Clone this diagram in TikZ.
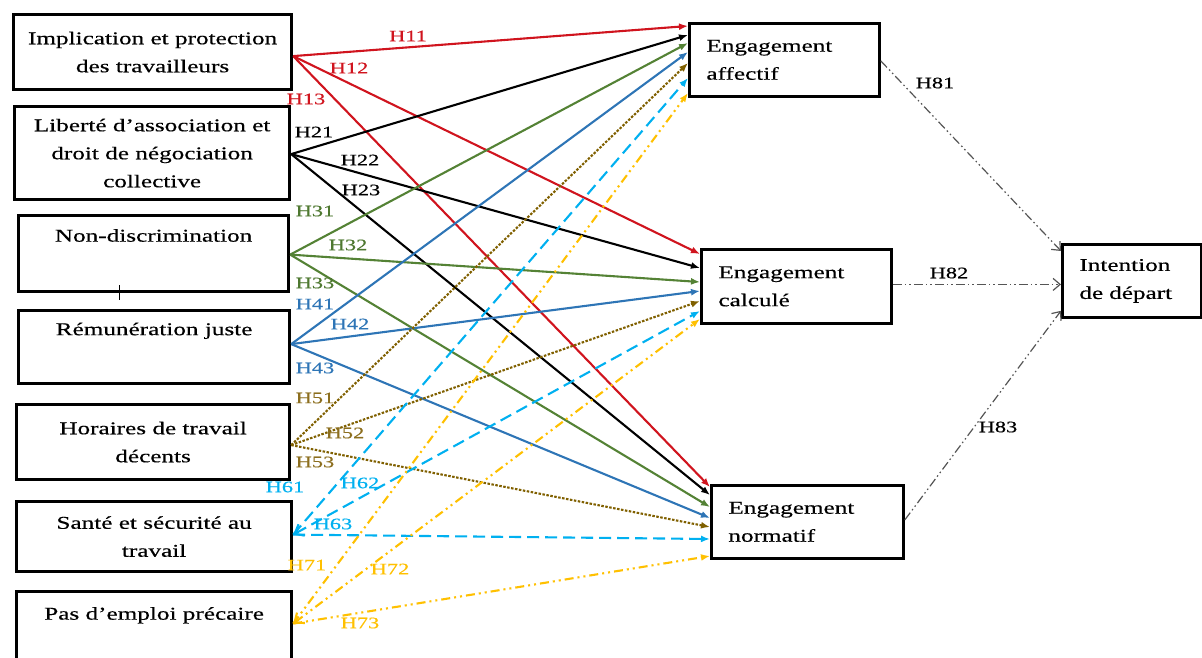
\documentclass[tikz,border=0pt]{standalone}
\usepackage{fontspec}
\setmainfont{Liberation Serif}[FakeStretch=1.4,FakeBold=0.4]
\usetikzlibrary{arrows.meta}
\definecolor{cred}{RGB}{208,20,30}
\definecolor{cgreen}{RGB}{84,130,53}
\definecolor{cblue}{RGB}{46,117,182}
\definecolor{cbrown}{RGB}{128,96,0}
\definecolor{ccyan}{RGB}{0,176,240}
\definecolor{cgold}{RGB}{255,192,0}
\definecolor{cgrey}{RGB}{85,85,85}
\definecolor{lgreen}{RGB}{78,120,48}
\definecolor{lbrown}{RGB}{140,110,30}
\begin{document}
\begin{tikzpicture}[x=1pt,y=-1pt,
  lbox/.style={draw, line width=3.2pt, fill=white, anchor=north west, inner sep=0pt, align=center, font=\fontsize{18}{28}\selectfont},
  mbox/.style={draw, line width=2.8pt, fill=white, anchor=north west, inner xsep=17pt, inner ysep=0pt, align=left, font=\fontsize{18}{28}\selectfont},
  hl/.style={font=\fontsize{16}{16}\selectfont, inner sep=0pt},
  arr/.style={-{Latex[length=9pt,width=7pt]}, line width=2.1pt},
  sred/.style={arr, draw=cred},
  sblack/.style={arr, draw=black},
  sgreen/.style={arr, draw=cgreen},
  sblue/.style={arr, draw=cblue},
  sbrown/.style={arr, draw=cbrown, dash pattern=on 2.5pt off 1.5pt},
  scyan/.style={arr, draw=ccyan, dash pattern=on 12pt off 6pt},
  sgold/.style={arr, draw=cgold, dash pattern=on 9pt off 4pt on 2pt off 4pt on 2pt off 4pt},
  sgrey/.style={-{Straight Barb[length=7pt,width=12pt]}, line width=1.2pt, draw=cgrey, dash pattern=on 9pt off 3pt on 1.5pt off 3pt on 1.5pt off 3pt},
  backbarb/.style={{Straight Barb[length=8pt,width=13pt]}-{Latex[length=9pt,width=7pt]}}
]
\useasboundingbox (0,0) rectangle (1202,657);

% source boxes
\node[lbox, minimum width=278pt, minimum height=75pt] (s1) at (12,13) {Implication et protection\\des travailleurs};
\node[lbox, minimum width=275pt, minimum height=93pt] (s2) at (13,105) {Liberté d’association et\\droit de négociation\\collective};
\node[lbox, minimum width=270pt, minimum height=76pt] (s3) at (17,214) {Non-discrimination\\\strut};
\node[lbox, minimum width=271pt, minimum height=73pt] (s4) at (17,309) {Rémunération juste\\\strut};
\node[lbox, minimum width=273pt, minimum height=75pt] (s5) at (15,403) {Horaires de travail\\décents};
\node[lbox, minimum width=275pt, minimum height=70pt] (s6) at (15,500) {Santé et sécurité au\\travail};
\node[lbox, minimum width=275pt, minimum height=80pt] (s7) at (15,590) {Pas d’emploi précaire\\\strut};

% target boxes
\node[mbox, text width=156pt, minimum width=190pt, minimum height=73pt] (A) at (688,22) {Engagement\\affectif};
\node[mbox, text width=156pt, minimum width=190pt, minimum height=74pt] (C) at (700,248) {Engagement\\calculé};
\node[mbox, text width=158pt, minimum width=192pt, minimum height=73pt] (N) at (710,484) {Engagement\\normatif};
\node[mbox, text width=105pt, minimum width=139pt, minimum height=73pt] (I) at (1061,243) {Intention\\de départ};

% source points
\coordinate (p1) at ([yshift=-4pt]s1.east);
\coordinate (p2) at ([yshift=-1pt]s2.east);
\coordinate (p3) at ([yshift=-1pt]s3.east);
\coordinate (p4) at ([yshift=3pt]s4.east);
\coordinate (p5) at ([yshift=-3pt]s5.east);
\coordinate (p6) at ([yshift=2pt]s6.east);
\coordinate (p7) at ([yshift=8pt]s7.east);

% tick mark
\draw[line width=1.4pt] ([xshift=-34pt,yshift=8pt]s3.south) -- ([xshift=-34pt,yshift=-7pt]s3.south);

% H1
\draw[sred] (p1) -- ([yshift=-4pt]A.north west);
\draw[sred] (p1) -- ([yshift=-6pt]C.north west);
\draw[sred] (p1) -- ([yshift=-3pt]N.north west);
% H2
\draw[sblack] (p2) -- ([yshift=-13pt]A.north west);
\draw[sblack] (p2) -- ([yshift=-20pt]C.north west);
\draw[sblack] (p2) -- ([yshift=-11pt]N.north west);
% H3
\draw[sgreen] (p3) -- ([yshift=-21pt]A.north west);
\draw[sgreen] (p3) -- ([yshift=-34pt]C.north west);
\draw[sgreen] (p3) -- ([yshift=-23pt]N.north west);
% H4
\draw[sblue] (p4) -- ([yshift=-30pt]A.north west);
\draw[sblue] (p4) -- ([yshift=-43pt]C.north west);
\draw[sblue] (p4) -- ([yshift=-34pt]N.north west);
% H5
\draw[sbrown] (p5) -- ([yshift=-41pt]A.north west);
\draw[sbrown] (p5) -- ([yshift=-53pt]C.north west);
\draw[sbrown] (p5) -- ([yshift=-43pt]N.north west);
% H6
\draw[scyan] (p6) -- ([yshift=-56pt]A.north west);
\draw[scyan, backbarb] (p6) -- ([yshift=-63pt]C.north west);
\draw[scyan] (p6) -- ([yshift=-55pt]N.north west);
% H7
\draw[sgold] (p7) -- ([yshift=-71pt]A.north west);
\draw[sgold, backbarb] (p7) -- ([yshift=-71pt]C.north west);
\draw[sgold] (p7) -- ([yshift=-72pt]N.north west);
% H8
\draw[sgrey] ([yshift=-1pt]A.east) -- ([yshift=-8pt]I.north west);
\draw[sgrey] ([yshift=2pt]C.east) -- ([yshift=-3.5pt]I.west);
\draw[sgrey] ([yshift=2pt]N.east) -- ([yshift=8pt]I.south west);

% labels
\node[hl, text=cred] (l11) at (408,36) {H11};
\node[hl, text=cred] (l12) at (349,68) {H12};
\node[hl, text=cred] (l13) at (306,99) {H13};
\node[hl, text=black] (l21) at (314,132) {H21};
\node[hl, text=black] (l22) at (360,160) {H22};
\node[hl, text=black] (l23) at (361,190) {H23};
\node[hl, text=lgreen] (l31) at (315,211) {H31};
\node[hl, text=lgreen] (l32) at (348,245) {H32};
\node[hl, text=lgreen] (l33) at (315,283) {H33};
\node[hl, text=cblue] (l41) at (315,304) {H41};
\node[hl, text=cblue] (l42) at (350,324) {H42};
\node[hl, text=cblue] (l43) at (315,368) {H43};
\node[hl, text=lbrown] (l51) at (315,398) {H51};
\node[hl, text=lbrown] (l52) at (345,433) {H52};
\node[hl, text=lbrown] (l53) at (315,462) {H53};
\node[hl, text=ccyan] (l61) at (285,487) {H61};
\node[hl, text=ccyan] (l62) at (360,483) {H62};
\node[hl, text=ccyan] (l63) at (333,524) {H63};
\node[hl, text=cgold] (l71) at (307,565) {H71};
\node[hl, text=cgold] (l72) at (390,569) {H72};
\node[hl, text=cgold] (l73) at (360,623) {H73};
\node[hl, text=black] (l81) at (935,83) {H81};
\node[hl, text=black] (l82) at (949,273) {H82};
\node[hl, text=black] (l83) at (998,427) {H83};
\end{tikzpicture}
\end{document}
